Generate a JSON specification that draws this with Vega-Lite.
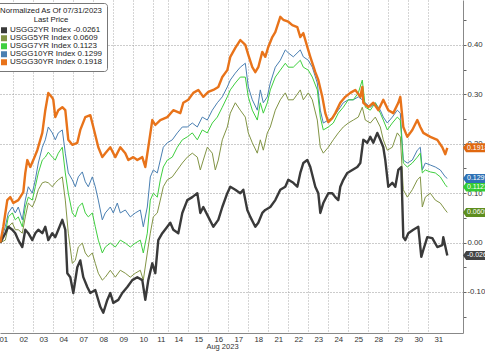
{
"$schema":"https://vega.github.io/schema/vega-lite/v6.json",
"width":463,"height":333,"autosize":"none",
"padding":{"left":0,"top":0,"right":22,"bottom":18},
"background":"white",
"config":{"view":{"stroke":null},"font":"Liberation Sans"},
"datasets":{
"tags":[
{"s":"2YR","v":-0.0261,"t":"-0.0261"},
{"s":"5YR","v":0.0609,"t":"0.0609"},
{"s":"7YR","v":0.1123,"t":"0.1123"},
{"s":"10YR","v":0.1299,"t":"0.1299"},
{"s":"30YR","v":0.1918,"t":"0.1918"}
],
"lines":[
{"s":"10YR","n":7,"v":0},{"s":"10YR","n":12,"v":0.032},{"s":"10YR","n":15,"v":0.060},{"s":"10YR","n":19,"v":0.072},{"s":"10YR","n":22,"v":0.060},{"s":"10YR","n":25,"v":0.072},{"s":"10YR","n":29,"v":0.046},{"s":"10YR","n":32,"v":0.086},{"s":"10YR","n":35,"v":0.113},{"s":"10YR","n":39,"v":0.100},{"s":"10YR","n":42,"v":0.127},{"s":"10YR","n":45,"v":0.161},{"s":"10YR","n":49,"v":0.193},{"s":"10YR","n":52,"v":0.208},{"s":"10YR","n":55,"v":0.234},{"s":"10YR","n":59,"v":0.222},{"s":"10YR","n":62,"v":0.208},{"s":"10YR","n":65,"v":0.222},{"s":"10YR","n":69,"v":0.228},{"s":"10YR","n":72,"v":0.181},{"s":"10YR","n":75,"v":0.141},{"s":"10YR","n":79,"v":0.127},{"s":"10YR","n":82,"v":0.113},{"s":"10YR","n":85,"v":0.133},{"s":"10YR","n":89,"v":0.143},{"s":"10YR","n":92,"v":0.123},{"s":"10YR","n":95,"v":0.113},{"s":"10YR","n":99,"v":0.133},{"s":"10YR","n":102,"v":0.113},{"s":"10YR","n":105,"v":0.086},{"s":"10YR","n":109,"v":0.046},{"s":"10YR","n":112,"v":0.060},{"s":"10YR","n":117,"v":0.072},{"s":"10YR","n":120,"v":0.060},{"s":"10YR","n":124,"v":0.080},{"s":"10YR","n":127,"v":0.060},{"s":"10YR","n":132,"v":0.066},{"s":"10YR","n":137,"v":0.052},{"s":"10YR","n":142,"v":0.060},{"s":"10YR","n":147,"v":0.066},{"s":"10YR","n":150,"v":0.032},{"s":"10YR","n":154,"v":0.072},{"s":"10YR","n":157,"v":0.133},{"s":"10YR","n":160,"v":0.147},{"s":"10YR","n":164,"v":0.141},{"s":"10YR","n":167,"v":0.167},{"s":"10YR","n":170,"v":0.193},{"s":"10YR","n":174,"v":0.202},{"s":"10YR","n":179,"v":0.208},{"s":"10YR","n":184,"v":0.222},{"s":"10YR","n":189,"v":0.234},{"s":"10YR","n":194,"v":0.234},{"s":"10YR","n":199,"v":0.242},{"s":"10YR","n":204,"v":0.234},{"s":"10YR","n":209,"v":0.254},{"s":"10YR","n":214,"v":0.248},{"s":"10YR","n":219,"v":0.268},{"s":"10YR","n":224,"v":0.283},{"s":"10YR","n":229,"v":0.295},{"s":"10YR","n":234,"v":0.315},{"s":"10YR","n":237,"v":0.329},{"s":"10YR","n":242,"v":0.343},{"s":"10YR","n":247,"v":0.355},{"s":"10YR","n":252,"v":0.363},{"s":"10YR","n":255,"v":0.315},{"s":"10YR","n":259,"v":0.289},{"s":"10YR","n":264,"v":0.268},{"s":"10YR","n":267,"v":0.309},{"s":"10YR","n":270,"v":0.283},{"s":"10YR","n":274,"v":0.295},{"s":"10YR","n":277,"v":0.323},{"s":"10YR","n":282,"v":0.355},{"s":"10YR","n":287,"v":0.369},{"s":"10YR","n":292,"v":0.390},{"s":"10YR","n":295,"v":0.384},{"s":"10YR","n":300,"v":0.376},{"s":"10YR","n":307,"v":0.390},{"s":"10YR","n":310,"v":0.376},{"s":"10YR","n":315,"v":0.369},{"s":"10YR","n":319,"v":0.355},{"s":"10YR","n":324,"v":0.323},{"s":"10YR","n":327,"v":0.268},{"s":"10YR","n":330,"v":0.242},{"s":"10YR","n":335,"v":0.248},{"s":"10YR","n":340,"v":0.254},{"s":"10YR","n":345,"v":0.268},{"s":"10YR","n":350,"v":0.283},{"s":"10YR","n":355,"v":0.289},{"s":"10YR","n":360,"v":0.289},{"s":"10YR","n":365,"v":0.295},{"s":"10YR","n":369,"v":0.289},{"s":"10YR","n":372,"v":0.283},{"s":"10YR","n":377,"v":0.274},{"s":"10YR","n":382,"v":0.283},{"s":"10YR","n":387,"v":0.268},{"s":"10YR","n":390,"v":0.254},{"s":"10YR","n":394,"v":0.242},{"s":"10YR","n":399,"v":0.254},{"s":"10YR","n":404,"v":0.268},{"s":"10YR","n":407,"v":0.262},{"s":"10YR","n":410,"v":0.167},{"s":"10YR","n":414,"v":0.161},{"s":"10YR","n":419,"v":0.167},{"s":"10YR","n":424,"v":0.187},{"s":"10YR","n":427,"v":0.193},{"s":"10YR","n":429,"v":0.147},{"s":"10YR","n":432,"v":0.161},{"s":"10YR","n":437,"v":0.157},{"s":"10YR","n":442,"v":0.153},{"s":"10YR","n":447,"v":0.147},{"s":"10YR","n":452,"v":0.133},{"s":"10YR","n":454,"v":0.1299},
{"s":"7YR","n":7,"v":0},{"s":"7YR","n":12,"v":0.019},{"s":"7YR","n":15,"v":0.052},{"s":"7YR","n":19,"v":0.060},{"s":"7YR","n":22,"v":0.046},{"s":"7YR","n":25,"v":0.052},{"s":"7YR","n":29,"v":0.032},{"s":"7YR","n":32,"v":0.072},{"s":"7YR","n":35,"v":0.092},{"s":"7YR","n":39,"v":0.086},{"s":"7YR","n":42,"v":0.113},{"s":"7YR","n":45,"v":0.141},{"s":"7YR","n":49,"v":0.167},{"s":"7YR","n":52,"v":0.173},{"s":"7YR","n":55,"v":0.183},{"s":"7YR","n":59,"v":0.173},{"s":"7YR","n":62,"v":0.167},{"s":"7YR","n":65,"v":0.181},{"s":"7YR","n":69,"v":0.193},{"s":"7YR","n":72,"v":0.141},{"s":"7YR","n":75,"v":0.100},{"s":"7YR","n":79,"v":0.060},{"s":"7YR","n":82,"v":0.052},{"s":"7YR","n":85,"v":0.072},{"s":"7YR","n":89,"v":0.080},{"s":"7YR","n":92,"v":0.060},{"s":"7YR","n":95,"v":0.052},{"s":"7YR","n":99,"v":0.060},{"s":"7YR","n":102,"v":0.032},{"s":"7YR","n":105,"v":0.005},{"s":"7YR","n":109,"v":-0.021},{"s":"7YR","n":112,"v":-0.009},{"s":"7YR","n":117,"v":-0.001},{"s":"7YR","n":122,"v":-0.009},{"s":"7YR","n":127,"v":0.005},{"s":"7YR","n":132,"v":-0.001},{"s":"7YR","n":137,"v":-0.009},{"s":"7YR","n":142,"v":-0.001},{"s":"7YR","n":147,"v":0.005},{"s":"7YR","n":150,"v":-0.021},{"s":"7YR","n":154,"v":0.019},{"s":"7YR","n":157,"v":0.086},{"s":"7YR","n":160,"v":0.100},{"s":"7YR","n":164,"v":0.092},{"s":"7YR","n":167,"v":0.127},{"s":"7YR","n":170,"v":0.153},{"s":"7YR","n":174,"v":0.167},{"s":"7YR","n":179,"v":0.173},{"s":"7YR","n":184,"v":0.193},{"s":"7YR","n":189,"v":0.208},{"s":"7YR","n":194,"v":0.214},{"s":"7YR","n":199,"v":0.222},{"s":"7YR","n":204,"v":0.208},{"s":"7YR","n":209,"v":0.228},{"s":"7YR","n":214,"v":0.222},{"s":"7YR","n":219,"v":0.242},{"s":"7YR","n":224,"v":0.254},{"s":"7YR","n":229,"v":0.274},{"s":"7YR","n":234,"v":0.295},{"s":"7YR","n":237,"v":0.309},{"s":"7YR","n":242,"v":0.323},{"s":"7YR","n":247,"v":0.335},{"s":"7YR","n":252,"v":0.335},{"s":"7YR","n":255,"v":0.295},{"s":"7YR","n":259,"v":0.268},{"s":"7YR","n":264,"v":0.248},{"s":"7YR","n":267,"v":0.283},{"s":"7YR","n":270,"v":0.262},{"s":"7YR","n":274,"v":0.283},{"s":"7YR","n":277,"v":0.309},{"s":"7YR","n":282,"v":0.335},{"s":"7YR","n":287,"v":0.349},{"s":"7YR","n":292,"v":0.363},{"s":"7YR","n":295,"v":0.355},{"s":"7YR","n":300,"v":0.355},{"s":"7YR","n":307,"v":0.369},{"s":"7YR","n":310,"v":0.355},{"s":"7YR","n":315,"v":0.349},{"s":"7YR","n":319,"v":0.335},{"s":"7YR","n":324,"v":0.309},{"s":"7YR","n":327,"v":0.254},{"s":"7YR","n":330,"v":0.228},{"s":"7YR","n":335,"v":0.234},{"s":"7YR","n":340,"v":0.242},{"s":"7YR","n":345,"v":0.262},{"s":"7YR","n":350,"v":0.274},{"s":"7YR","n":355,"v":0.289},{"s":"7YR","n":360,"v":0.289},{"s":"7YR","n":365,"v":0.303},{"s":"7YR","n":369,"v":0.329},{"s":"7YR","n":372,"v":0.274},{"s":"7YR","n":377,"v":0.268},{"s":"7YR","n":382,"v":0.283},{"s":"7YR","n":387,"v":0.262},{"s":"7YR","n":390,"v":0.248},{"s":"7YR","n":394,"v":0.228},{"s":"7YR","n":399,"v":0.242},{"s":"7YR","n":404,"v":0.254},{"s":"7YR","n":407,"v":0.248},{"s":"7YR","n":410,"v":0.161},{"s":"7YR","n":414,"v":0.153},{"s":"7YR","n":419,"v":0.161},{"s":"7YR","n":424,"v":0.173},{"s":"7YR","n":427,"v":0.181},{"s":"7YR","n":429,"v":0.141},{"s":"7YR","n":432,"v":0.147},{"s":"7YR","n":437,"v":0.143},{"s":"7YR","n":442,"v":0.141},{"s":"7YR","n":447,"v":0.133},{"s":"7YR","n":452,"v":0.117},{"s":"7YR","n":454,"v":0.1123},
{"s":"5YR","n":7,"v":0},{"s":"5YR","n":12,"v":0.005},{"s":"5YR","n":15,"v":0.032},{"s":"5YR","n":19,"v":0.040},{"s":"5YR","n":22,"v":0.026},{"s":"5YR","n":25,"v":0.026},{"s":"5YR","n":29,"v":0.019},{"s":"5YR","n":32,"v":0.052},{"s":"5YR","n":35,"v":0.080},{"s":"5YR","n":39,"v":0.072},{"s":"5YR","n":42,"v":0.086},{"s":"5YR","n":45,"v":0.107},{"s":"5YR","n":49,"v":0.121},{"s":"5YR","n":52,"v":0.123},{"s":"5YR","n":55,"v":0.121},{"s":"5YR","n":59,"v":0.113},{"s":"5YR","n":62,"v":0.121},{"s":"5YR","n":65,"v":0.127},{"s":"5YR","n":69,"v":0.133},{"s":"5YR","n":72,"v":0.086},{"s":"5YR","n":75,"v":0.019},{"s":"5YR","n":79,"v":-0.042},{"s":"5YR","n":82,"v":-0.036},{"s":"5YR","n":85,"v":-0.009},{"s":"5YR","n":89,"v":-0.001},{"s":"5YR","n":92,"v":-0.021},{"s":"5YR","n":95,"v":-0.029},{"s":"5YR","n":99,"v":-0.021},{"s":"5YR","n":102,"v":-0.042},{"s":"5YR","n":105,"v":-0.062},{"s":"5YR","n":109,"v":-0.076},{"s":"5YR","n":112,"v":-0.070},{"s":"5YR","n":117,"v":-0.056},{"s":"5YR","n":122,"v":-0.070},{"s":"5YR","n":127,"v":-0.056},{"s":"5YR","n":132,"v":-0.062},{"s":"5YR","n":137,"v":-0.070},{"s":"5YR","n":142,"v":-0.062},{"s":"5YR","n":147,"v":-0.056},{"s":"5YR","n":150,"v":-0.076},{"s":"5YR","n":154,"v":-0.021},{"s":"5YR","n":157,"v":0.019},{"s":"5YR","n":160,"v":0.052},{"s":"5YR","n":164,"v":0.060},{"s":"5YR","n":167,"v":0.086},{"s":"5YR","n":170,"v":0.113},{"s":"5YR","n":174,"v":0.127},{"s":"5YR","n":179,"v":0.133},{"s":"5YR","n":184,"v":0.147},{"s":"5YR","n":189,"v":0.161},{"s":"5YR","n":194,"v":0.173},{"s":"5YR","n":199,"v":0.181},{"s":"5YR","n":204,"v":0.173},{"s":"5YR","n":207,"v":0.147},{"s":"5YR","n":210,"v":0.167},{"s":"5YR","n":214,"v":0.193},{"s":"5YR","n":219,"v":0.181},{"s":"5YR","n":222,"v":0.147},{"s":"5YR","n":225,"v":0.167},{"s":"5YR","n":229,"v":0.208},{"s":"5YR","n":234,"v":0.234},{"s":"5YR","n":237,"v":0.262},{"s":"5YR","n":242,"v":0.283},{"s":"5YR","n":247,"v":0.268},{"s":"5YR","n":252,"v":0.254},{"s":"5YR","n":255,"v":0.222},{"s":"5YR","n":259,"v":0.202},{"s":"5YR","n":264,"v":0.181},{"s":"5YR","n":267,"v":0.208},{"s":"5YR","n":270,"v":0.187},{"s":"5YR","n":274,"v":0.222},{"s":"5YR","n":277,"v":0.234},{"s":"5YR","n":282,"v":0.268},{"s":"5YR","n":287,"v":0.289},{"s":"5YR","n":292,"v":0.303},{"s":"5YR","n":295,"v":0.289},{"s":"5YR","n":300,"v":0.289},{"s":"5YR","n":307,"v":0.309},{"s":"5YR","n":310,"v":0.289},{"s":"5YR","n":315,"v":0.303},{"s":"5YR","n":319,"v":0.289},{"s":"5YR","n":324,"v":0.248},{"s":"5YR","n":327,"v":0.193},{"s":"5YR","n":330,"v":0.181},{"s":"5YR","n":335,"v":0.193},{"s":"5YR","n":340,"v":0.208},{"s":"5YR","n":345,"v":0.222},{"s":"5YR","n":350,"v":0.234},{"s":"5YR","n":355,"v":0.242},{"s":"5YR","n":360,"v":0.248},{"s":"5YR","n":365,"v":0.254},{"s":"5YR","n":369,"v":0.274},{"s":"5YR","n":372,"v":0.248},{"s":"5YR","n":377,"v":0.242},{"s":"5YR","n":382,"v":0.254},{"s":"5YR","n":387,"v":0.234},{"s":"5YR","n":390,"v":0.208},{"s":"5YR","n":394,"v":0.187},{"s":"5YR","n":399,"v":0.193},{"s":"5YR","n":404,"v":0.222},{"s":"5YR","n":407,"v":0.214},{"s":"5YR","n":410,"v":0.107},{"s":"5YR","n":414,"v":0.092},{"s":"5YR","n":419,"v":0.107},{"s":"5YR","n":424,"v":0.127},{"s":"5YR","n":427,"v":0.133},{"s":"5YR","n":429,"v":0.072},{"s":"5YR","n":432,"v":0.092},{"s":"5YR","n":437,"v":0.100},{"s":"5YR","n":442,"v":0.086},{"s":"5YR","n":447,"v":0.080},{"s":"5YR","n":452,"v":0.066},{"s":"5YR","n":454,"v":0.0609},
{"s":"2YR","n":7,"v":0},{"s":"2YR","n":12,"v":0.019},{"s":"2YR","n":15,"v":0.032},{"s":"2YR","n":19,"v":0.026},{"s":"2YR","n":22,"v":0.019},{"s":"2YR","n":25,"v":0.005},{"s":"2YR","n":29,"v":-0.009},{"s":"2YR","n":32,"v":0.026},{"s":"2YR","n":35,"v":0.019},{"s":"2YR","n":39,"v":0.005},{"s":"2YR","n":42,"v":0.019},{"s":"2YR","n":45,"v":0.026},{"s":"2YR","n":49,"v":0.019},{"s":"2YR","n":52,"v":0.032},{"s":"2YR","n":55,"v":0.005},{"s":"2YR","n":59,"v":0.019},{"s":"2YR","n":62,"v":0.011},{"s":"2YR","n":65,"v":0.026},{"s":"2YR","n":69,"v":0.046},{"s":"2YR","n":72,"v":0.026},{"s":"2YR","n":74,"v":-0.062},{"s":"2YR","n":77,"v":-0.070},{"s":"2YR","n":80,"v":-0.102},{"s":"2YR","n":84,"v":-0.050},{"s":"2YR","n":87,"v":-0.036},{"s":"2YR","n":90,"v":-0.070},{"s":"2YR","n":94,"v":-0.090},{"s":"2YR","n":97,"v":-0.102},{"s":"2YR","n":102,"v":-0.096},{"s":"2YR","n":107,"v":-0.130},{"s":"2YR","n":110,"v":-0.142},{"s":"2YR","n":114,"v":-0.116},{"s":"2YR","n":117,"v":-0.102},{"s":"2YR","n":120,"v":-0.122},{"s":"2YR","n":125,"v":-0.116},{"s":"2YR","n":129,"v":-0.102},{"s":"2YR","n":134,"v":-0.090},{"s":"2YR","n":139,"v":-0.076},{"s":"2YR","n":144,"v":-0.070},{"s":"2YR","n":149,"v":-0.076},{"s":"2YR","n":152,"v":-0.116},{"s":"2YR","n":155,"v":-0.076},{"s":"2YR","n":159,"v":-0.042},{"s":"2YR","n":162,"v":-0.062},{"s":"2YR","n":165,"v":0.005},{"s":"2YR","n":169,"v":0.019},{"s":"2YR","n":174,"v":0.032},{"s":"2YR","n":177,"v":0.040},{"s":"2YR","n":180,"v":0.026},{"s":"2YR","n":185,"v":0.019},{"s":"2YR","n":189,"v":0.060},{"s":"2YR","n":194,"v":0.086},{"s":"2YR","n":199,"v":0.092},{"s":"2YR","n":204,"v":0.100},{"s":"2YR","n":207,"v":0.060},{"s":"2YR","n":210,"v":0.072},{"s":"2YR","n":215,"v":0.052},{"s":"2YR","n":220,"v":0.032},{"s":"2YR","n":225,"v":0.046},{"s":"2YR","n":229,"v":0.072},{"s":"2YR","n":234,"v":0.100},{"s":"2YR","n":237,"v":0.113},{"s":"2YR","n":242,"v":0.107},{"s":"2YR","n":247,"v":0.100},{"s":"2YR","n":250,"v":0.107},{"s":"2YR","n":254,"v":0.066},{"s":"2YR","n":257,"v":0.052},{"s":"2YR","n":262,"v":0.032},{"s":"2YR","n":265,"v":0.040},{"s":"2YR","n":269,"v":0.060},{"s":"2YR","n":272,"v":0.066},{"s":"2YR","n":277,"v":0.072},{"s":"2YR","n":282,"v":0.086},{"s":"2YR","n":287,"v":0.107},{"s":"2YR","n":292,"v":0.113},{"s":"2YR","n":295,"v":0.127},{"s":"2YR","n":300,"v":0.121},{"s":"2YR","n":304,"v":0.113},{"s":"2YR","n":307,"v":0.141},{"s":"2YR","n":310,"v":0.161},{"s":"2YR","n":314,"v":0.167},{"s":"2YR","n":317,"v":0.153},{"s":"2YR","n":322,"v":0.113},{"s":"2YR","n":325,"v":0.100},{"s":"2YR","n":327,"v":0.060},{"s":"2YR","n":330,"v":0.080},{"s":"2YR","n":335,"v":0.100},{"s":"2YR","n":339,"v":0.100},{"s":"2YR","n":342,"v":0.092},{"s":"2YR","n":345,"v":0.086},{"s":"2YR","n":347,"v":0.113},{"s":"2YR","n":350,"v":0.127},{"s":"2YR","n":354,"v":0.141},{"s":"2YR","n":359,"v":0.147},{"s":"2YR","n":364,"v":0.153},{"s":"2YR","n":367,"v":0.161},{"s":"2YR","n":370,"v":0.208},{"s":"2YR","n":374,"v":0.202},{"s":"2YR","n":377,"v":0.214},{"s":"2YR","n":380,"v":0.202},{"s":"2YR","n":384,"v":0.222},{"s":"2YR","n":387,"v":0.208},{"s":"2YR","n":390,"v":0.193},{"s":"2YR","n":392,"v":0.167},{"s":"2YR","n":395,"v":0.113},{"s":"2YR","n":399,"v":0.121},{"s":"2YR","n":402,"v":0.113},{"s":"2YR","n":405,"v":0.147},{"s":"2YR","n":408,"v":0.153},{"s":"2YR","n":410,"v":0.011},{"s":"2YR","n":412,"v":0.005},{"s":"2YR","n":415,"v":0.019},{"s":"2YR","n":420,"v":0.026},{"s":"2YR","n":425,"v":0.032},{"s":"2YR","n":428,"v":-0.029},{"s":"2YR","n":430,"v":-0.015},{"s":"2YR","n":434,"v":0.011},{"s":"2YR","n":439,"v":0.009},{"s":"2YR","n":444,"v":-0.009},{"s":"2YR","n":449,"v":-0.005},{"s":"2YR","n":450,"v":0.011},{"s":"2YR","n":454,"v":-0.0261},
{"s":"30YR","n":7,"v":0},{"s":"30YR","n":10,"v":0.032},{"s":"30YR","n":14,"v":0.086},{"s":"30YR","n":17,"v":0.092},{"s":"30YR","n":20,"v":0.080},{"s":"30YR","n":25,"v":0.086},{"s":"30YR","n":30,"v":0.102},{"s":"30YR","n":32,"v":0.141},{"s":"30YR","n":34,"v":0.167},{"s":"30YR","n":37,"v":0.153},{"s":"30YR","n":40,"v":0.167},{"s":"30YR","n":44,"v":0.187},{"s":"30YR","n":49,"v":0.222},{"s":"30YR","n":52,"v":0.268},{"s":"30YR","n":55,"v":0.303},{"s":"30YR","n":59,"v":0.293},{"s":"30YR","n":60,"v":0.289},{"s":"30YR","n":62,"v":0.254},{"s":"30YR","n":65,"v":0.268},{"s":"30YR","n":69,"v":0.274},{"s":"30YR","n":72,"v":0.268},{"s":"30YR","n":75,"v":0.208},{"s":"30YR","n":79,"v":0.198},{"s":"30YR","n":84,"v":0.202},{"s":"30YR","n":87,"v":0.228},{"s":"30YR","n":92,"v":0.254},{"s":"30YR","n":97,"v":0.258},{"s":"30YR","n":100,"v":0.234},{"s":"30YR","n":105,"v":0.193},{"s":"30YR","n":109,"v":0.173},{"s":"30YR","n":112,"v":0.181},{"s":"30YR","n":117,"v":0.193},{"s":"30YR","n":122,"v":0.173},{"s":"30YR","n":127,"v":0.193},{"s":"30YR","n":132,"v":0.181},{"s":"30YR","n":135,"v":0.167},{"s":"30YR","n":140,"v":0.173},{"s":"30YR","n":144,"v":0.167},{"s":"30YR","n":149,"v":0.173},{"s":"30YR","n":152,"v":0.153},{"s":"30YR","n":155,"v":0.193},{"s":"30YR","n":159,"v":0.248},{"s":"30YR","n":162,"v":0.238},{"s":"30YR","n":167,"v":0.248},{"s":"30YR","n":174,"v":0.254},{"s":"30YR","n":180,"v":0.268},{"s":"30YR","n":187,"v":0.262},{"s":"30YR","n":190,"v":0.283},{"s":"30YR","n":195,"v":0.289},{"s":"30YR","n":200,"v":0.303},{"s":"30YR","n":205,"v":0.309},{"s":"30YR","n":210,"v":0.295},{"s":"30YR","n":215,"v":0.305},{"s":"30YR","n":220,"v":0.309},{"s":"30YR","n":225,"v":0.315},{"s":"30YR","n":229,"v":0.335},{"s":"30YR","n":234,"v":0.349},{"s":"30YR","n":237,"v":0.376},{"s":"30YR","n":242,"v":0.394},{"s":"30YR","n":247,"v":0.410},{"s":"30YR","n":252,"v":0.400},{"s":"30YR","n":255,"v":0.380},{"s":"30YR","n":259,"v":0.355},{"s":"30YR","n":262,"v":0.345},{"s":"30YR","n":265,"v":0.355},{"s":"30YR","n":269,"v":0.386},{"s":"30YR","n":272,"v":0.376},{"s":"30YR","n":275,"v":0.396},{"s":"30YR","n":279,"v":0.416},{"s":"30YR","n":282,"v":0.426},{"s":"30YR","n":287,"v":0.457},{"s":"30YR","n":290,"v":0.451},{"s":"30YR","n":295,"v":0.447},{"s":"30YR","n":299,"v":0.440},{"s":"30YR","n":304,"v":0.436},{"s":"30YR","n":307,"v":0.416},{"s":"30YR","n":310,"v":0.424},{"s":"30YR","n":314,"v":0.396},{"s":"30YR","n":317,"v":0.376},{"s":"30YR","n":322,"v":0.345},{"s":"30YR","n":325,"v":0.329},{"s":"30YR","n":329,"v":0.295},{"s":"30YR","n":332,"v":0.262},{"s":"30YR","n":335,"v":0.244},{"s":"30YR","n":339,"v":0.252},{"s":"30YR","n":342,"v":0.262},{"s":"30YR","n":347,"v":0.283},{"s":"30YR","n":352,"v":0.295},{"s":"30YR","n":357,"v":0.303},{"s":"30YR","n":362,"v":0.309},{"s":"30YR","n":367,"v":0.295},{"s":"30YR","n":369,"v":0.315},{"s":"30YR","n":370,"v":0.283},{"s":"30YR","n":375,"v":0.274},{"s":"30YR","n":380,"v":0.283},{"s":"30YR","n":385,"v":0.268},{"s":"30YR","n":390,"v":0.289},{"s":"30YR","n":395,"v":0.268},{"s":"30YR","n":400,"v":0.262},{"s":"30YR","n":405,"v":0.283},{"s":"30YR","n":407,"v":0.295},{"s":"30YR","n":410,"v":0.234},{"s":"30YR","n":414,"v":0.214},{"s":"30YR","n":419,"v":0.228},{"s":"30YR","n":424,"v":0.248},{"s":"30YR","n":427,"v":0.234},{"s":"30YR","n":430,"v":0.222},{"s":"30YR","n":437,"v":0.214},{"s":"30YR","n":444,"v":0.208},{"s":"30YR","n":449,"v":0.193},{"s":"30YR","n":452,"v":0.179},{"s":"30YR","n":454,"v":0.1918}
]},
"encoding":{
  "y":{"field":"v","type":"quantitative","scale":{"domain":[-0.183,0.491],"nice":false,"zero":false},
   "axis":{"orient":"right","values":[-0.15,-0.1,-0.05,0,0.05,0.1,0.15,0.2,0.25,0.3,0.35,0.4,0.45],
    "labelExpr":"abs(round(datum.value*20))%2==0 ? (datum.value<0?'-':'') + format(abs(datum.value),'.2f') : ''",
    "grid":true,"gridOpacity":{"condition":{"test":"abs(round(datum.value*20))%2==1","value":0},"value":1},
    "gridDash":[1,2],"gridColor":"#999","tickSize":3,"tickColor":"#666","domainColor":"#888",
    "labelFontSize":7.8,"labelColor":"#333","labelPadding":1,"labelOverlap":false,"labelFlush":false,"title":null}}
},
"layer":[
{"data":{"name":"lines"},
 "mark":{"type":"line","interpolate":"linear","strokeJoin":"round"},
 "encoding":{
  "x":{"field":"n","type":"quantitative","scale":{"domain":[6.7,469.7],"nice":false,"zero":false},
   "axis":{"values":[10,30,50,70,90,110,130,150,170,185,205,225,245,265,285,305,325,345,365,385,405,425,445],
    "labelExpr":"['01','02','03','04','07','08','09','10','11','14','15','16','17','18','21','22','23','24','25','28','29','30','31'][indexof([10,30,50,70,90,110,130,150,170,185,205,225,245,265,285,305,325,345,365,385,405,425,445], datum.value)]",
    "tickOffset":-10,"labelOffset":{"condition":{"test":"datum.value == 170","value":7.5},"value":10},
    "ticks":false,"grid":true,"gridDash":[1,2],"gridColor":"#aaa","domainColor":"#888",
    "labelFontSize":7.8,"labelColor":"#333","labelPadding":2,"labelFlush":false,"labelOverlap":false,
    "title":"Aug 2023","titleFontSize":7.5,"titleFontWeight":"normal","titlePadding":0,"titleColor":"#333","titleX":222}},
  "stroke":{"field":"s","type":"nominal",
   "scale":{"domain":["2YR","5YR","7YR","10YR","30YR"],"range":["#3a3a3a","#829445","#3fcf3f","#4a7fb2","#e8731a"]},
   "legend":{"orient":"none","legendX":-4,"legendY":3,
    "title":["Normalized As Of 07/31/2023","Last Price"],"titleFontSize":7.8,"titleFontWeight":"normal","titleAlign":"center","titleAnchor":"middle","titleColor":"#222","titlePadding":3,"titleLineHeight":8.5,
    "symbolType":"square","symbolSize":9,"symbolStrokeWidth":3,"symbolOpacity":1,"labelFontSize":8,"labelColor":"#222","rowPadding":0,"clipHeight":8,"padding":4,"labelOffset":2,
    "fillColor":"white","strokeColor":"#777","cornerRadius":3,
    "labelExpr":"['USGG2YR Index -0.0261','USGG5YR Index 0.0609','USGG7YR Index 0.1123','USGG10YR Index 0.1299','USGG30YR Index 0.1918'][indexof(['2YR','5YR','7YR','10YR','30YR'], datum.label)]"}},
  "strokeWidth":{"condition":{"test":"datum.s==='2YR' || datum.s==='30YR'","value":2.4},"value":1}
 }},
{"data":{"name":"tags"},
 "mark":{"type":"point","shape":"M0,0L0.7,-1L7,-1L7,1L0.7,1Z","size":81,"filled":true,"opacity":1,"strokeWidth":0},
 "encoding":{
  "x":{"value":"width"},
  "fill":{"field":"s","type":"nominal","legend":null,
   "scale":{"domain":["2YR","5YR","7YR","10YR","30YR"],"range":["#444444","#5e8e1e","#33cc33","#2e72b6","#e0680f"]}}
 }},
{"data":{"name":"tags"},
 "mark":{"type":"text","align":"left","baseline":"middle","dx":4,"fontSize":7,"color":"white"},
 "encoding":{
  "x":{"value":"width"},
  "text":{"field":"t","type":"nominal"}
 }}
]
}
